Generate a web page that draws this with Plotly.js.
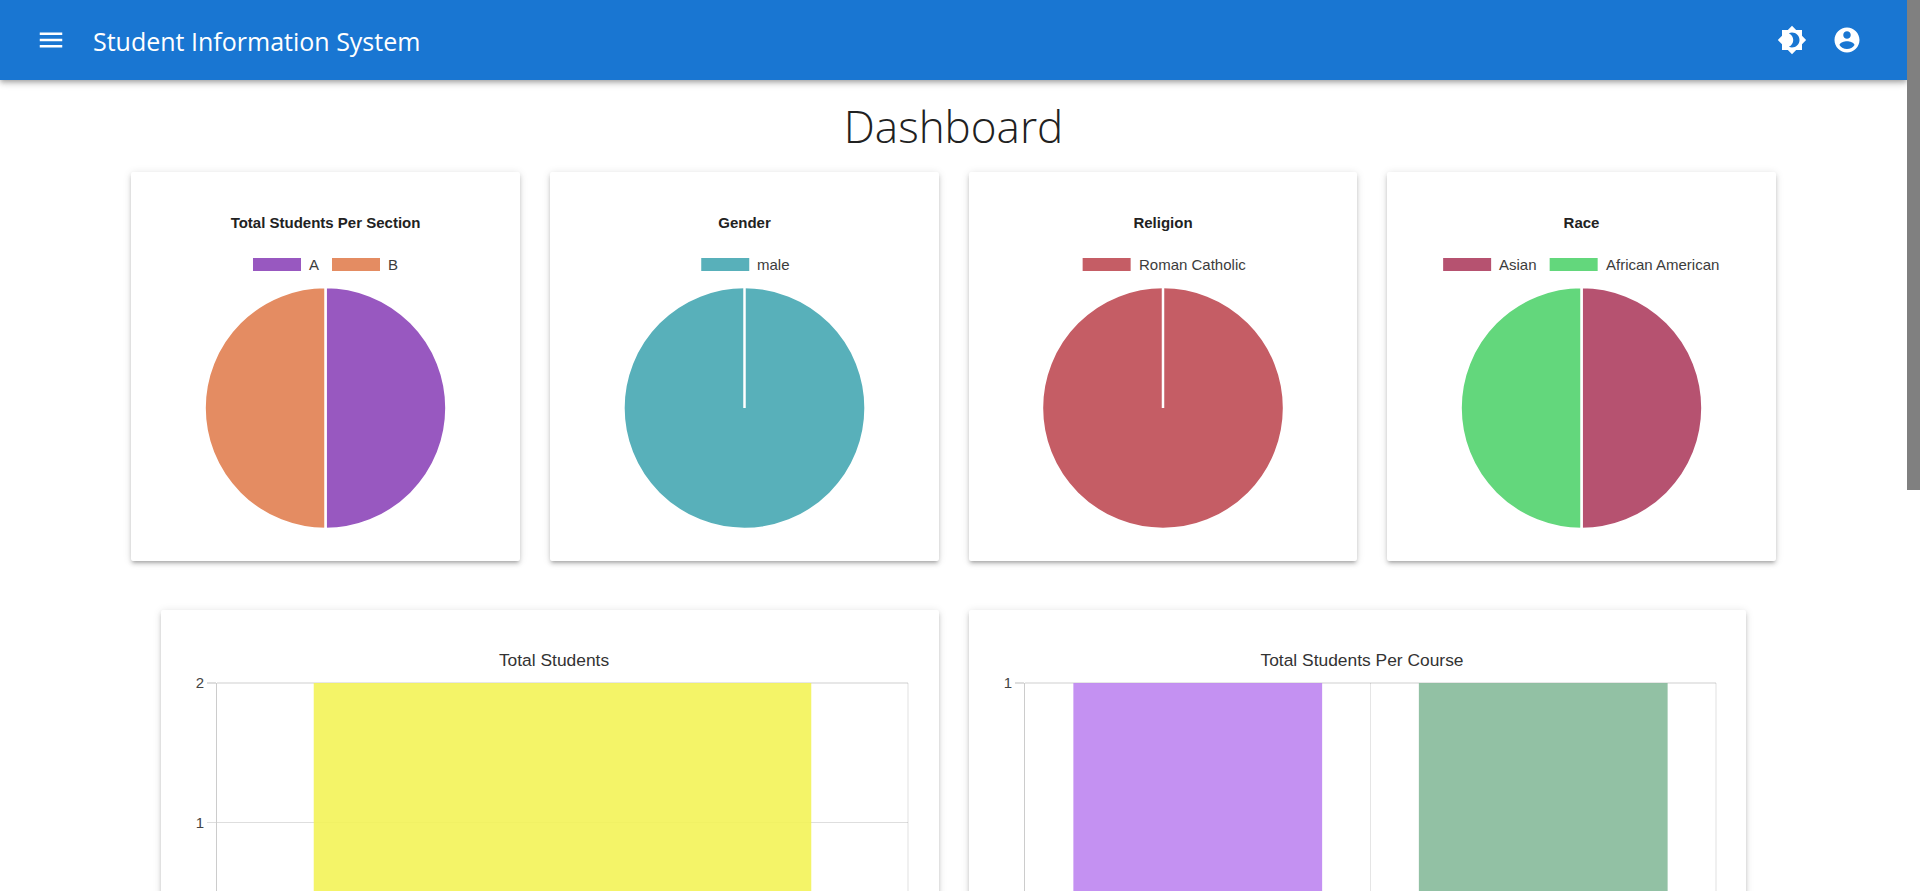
<!DOCTYPE html>
<html><head><meta charset="utf-8">
<script src="https://cdn.plot.ly/plotly-3.0.1.min.js"></script>
<style>
html,body{margin:0;padding:0;width:1920px;height:891px;overflow:hidden;background:#fff;font-family:"Open Sans",sans-serif}
#bar{position:absolute;left:0;top:0;width:1907px;height:80px;background:#1976d2;box-shadow:0 2px 4px -1px rgba(0,0,0,.2),0 4px 5px 0 rgba(0,0,0,.14),0 1px 10px 0 rgba(0,0,0,.12);z-index:5}
#bar .t{position:absolute;left:93px;top:24px;font-size:25px;line-height:34px;color:#fff;white-space:nowrap}
#bar svg{position:absolute;fill:#fff}
#scroll{position:absolute;left:1907px;top:0;width:13px;height:490px;background:#808080;z-index:6}
h1{position:absolute;left:0;width:1907px;top:93px;margin:0;text-align:center;font-size:44px;line-height:66px;font-weight:300;color:#212121}
.card{position:absolute;background:#fff;box-shadow:0 3px 3px -2px rgba(0,0,0,.2),0 3px 4px 0 rgba(0,0,0,.14),0 1px 8px 0 rgba(0,0,0,.12);border-radius:2px}
</style></head><body>
<div id="bar">
<svg style="left:36px;top:25px" width="30" height="30" viewBox="0 0 24 24"><path d="M3 18h18v-2H3v2zm0-5h18v-2H3v2zm0-7v2h18V6H3z"/></svg>
<div class="t">Student Information System</div>
<svg style="left:1777px;top:25px" width="30" height="30" viewBox="0 0 24 24"><path d="M20 8.69V4h-4.69L12 .69 8.69 4H4v4.69L.69 12 4 15.31V20h4.69L12 23.31 15.31 20H20v-4.69L23.31 12 20 8.69zM12 18c-.89 0-1.74-.2-2.5-.55C11.56 16.5 13 14.42 13 12s-1.44-4.5-3.5-5.45C10.26 6.2 11.11 6 12 6c3.31 0 6 2.69 6 6s-2.69 6-6 6z"/></svg>
<svg style="left:1832px;top:25px" width="30" height="30" viewBox="0 0 24 24"><path d="M12 2C6.48 2 2 6.48 2 12s4.48 10 10 10 10-4.48 10-10S17.52 2 12 2zm0 3c1.66 0 3 1.34 3 3s-1.34 3-3 3-3-1.34-3-3 1.34-3 3-3zm0 14.2c-2.5 0-4.71-1.28-6-3.22.03-1.99 4-3.08 6-3.08 1.99 0 5.97 1.09 6 3.08-1.29 1.94-3.5 3.22-6 3.22z"/></svg>
</div>
<div id="scroll"></div>
<h1>Dashboard</h1>
<div class="card" id="p1" style="left:131px;top:172px;width:389px;height:389px"></div>
<div class="card" id="p2" style="left:550px;top:172px;width:389px;height:389px"></div>
<div class="card" id="p3" style="left:969px;top:172px;width:388px;height:389px"></div>
<div class="card" id="p4" style="left:1387px;top:172px;width:389px;height:389px"></div>
<div class="card" id="b1" style="left:161px;top:610px;width:778px;height:420px"></div>
<div class="card" id="b2" style="left:969px;top:610px;width:777px;height:420px"></div>
<script>
// ---- data ----
const sectionLabels = ["A", "B"];
const sectionValues = [1, 1];
const sectionColors = ["#9858c0", "#e48c62"];
const genderLabels = ["male"];
const genderValues = [1];
const genderColors = ["#58b0ba"];
const religionLabels = ["Roman Catholic"];
const religionValues = [1];
const religionColors = ["#c55d65"];
const raceLabels = ["Asian", "African American"];
const raceValues = [1, 1];
const raceColors = ["#b65270", "#63d77c"];
const totalCategories = ["Total Students"];
const totalValues = [2];
const totalTicks = [1, 2];
const totalColors = ["rgba(243,243,88,0.9)"];
const courseCategories = ["Course 1", "Course 2"];
const courseValues = [1, 1];
const courseTicks = [1];
const courseColors = ["rgba(190,133,241,0.9)", "rgba(134,186,154,0.9)"];

// ---- drawing ----
const FONT = '"Liberation Sans", Arial, sans-serif';
const cfg = {staticPlot: true, displayModeBar: false};
const ctx = document.createElement('canvas').getContext('2d');

function pie(id, title, labels, values, colors) {
  const el = document.getElementById(id);
  const W = el.clientWidth, H = el.clientHeight;
  const cx = W / 2, cy = 236, r = 121;
  const shapes = [], annotations = [];
  const fs = 15, sw = 48, sh = 13, gapT = 8, gapI = 13, ly = 92.5;
  ctx.font = fs + 'px "Liberation Sans"';
  const widths = labels.map(l => ctx.measureText(l).width);
  const total = widths.reduce((a, w) => a + sw + gapT + w, 0) + gapI * (labels.length - 1);
  let x = W / 2 - total / 2 + (labels.length === 1 ? 1 : 0);
  labels.forEach((l, i) => {
    shapes.push({type: 'rect', xref: 'paper', yref: 'paper', x0: x / W, x1: (x + sw) / W,
      y0: 1 - (ly + sh / 2) / H, y1: 1 - (ly - sh / 2) / H, fillcolor: colors[i], line: {width: 0}});
    annotations.push({xref: 'paper', yref: 'paper', x: (x + sw + gapT) / W, y: 1 - ly / H,
      xanchor: 'left', yanchor: 'middle', showarrow: false, text: l,
      font: {family: FONT, size: fs, color: '#3c3c3c'}, borderpad: 0, borderwidth: 0});
    x += sw + gapT + widths[i] + gapI;
  });
  if (values.length === 1) {
    shapes.push({type: 'line', xref: 'paper', yref: 'paper', x0: cx / W, x1: cx / W,
      y0: 1 - cy / H, y1: 1 - (cy - r) / H, line: {color: '#fff', width: 2.5}});
  }
  Plotly.newPlot(el, [{type: 'pie', labels, values, sort: false, direction: 'clockwise', rotation: 0,
    textinfo: 'none', hoverinfo: 'label+value', showlegend: false,
    marker: {colors, line: {color: '#fff', width: 2.5}},
    domain: {x: [(cx - r) / W, (cx + r) / W], y: [1 - (cy + r) / H, 1 - (cy - r) / H]}}],
  {width: W, height: H, margin: {l: 0, r: 0, t: 0, b: 0}, paper_bgcolor: 'rgba(0,0,0,0)', showlegend: false,
    title: {text: '<b>' + title + '</b>', x: 0.5, xanchor: 'center', y: 1 - 51 / H, yanchor: 'middle',
      font: {family: FONT, size: 15, color: '#222'}},
    shapes, annotations}, cfg);
}

function bars(id, title, cats, vals, colors, yMax, ticks, mr) {
  const el = document.getElementById(id);
  const W = el.clientWidth, H = el.clientHeight;
  const ml = 56, mt = 73;
  const grid = 'rgba(0,0,0,0.13)';
  Plotly.newPlot(el, [{type: 'bar', x: cats, y: vals, width: 0.72, marker: {color: colors, line: {width: 0}}, hoverinfo: 'x+y'}],
  {width: W, height: H, margin: {l: ml, r: mr, t: mt, b: H - mt - 279}, paper_bgcolor: 'rgba(0,0,0,0)', plot_bgcolor: 'rgba(0,0,0,0)', showlegend: false,
    title: {text: title, x: (ml + (W - ml - mr) / 2 - 8.5) / W, xanchor: 'center', y: 1 - 50 / H, yanchor: 'middle',
      font: {family: FONT, size: 17.4, color: '#333'}},
    shapes: [
      {type: 'line', layer: 'below', xref: 'paper', yref: 'paper', x0: 0, x1: 1, y0: 1, y1: 1, line: {color: grid, width: 1.4}},
      {type: 'line', layer: 'below', xref: 'paper', yref: 'paper', x0: 1, x1: 1, y0: 0, y1: 1, line: {color: 'rgba(0,0,0,0.1)', width: 1.2}}
    ],
    xaxis: {type: 'category', tickson: 'boundaries', range: [-0.5, cats.length - 0.5], showgrid: true,
      gridcolor: 'rgba(0,0,0,0.1)', gridwidth: 1.2, ticks: '', showticklabels: false, zeroline: false,
      showline: false},
    yaxis: {range: [0, yMax], tickmode: 'array', tickvals: ticks, ticktext: ticks.map(String), ticks: 'outside', ticklen: 9, tickwidth: 1.2, tickcolor: grid,
      gridcolor: grid, gridwidth: 1.4, zeroline: false, showline: true, linecolor: 'rgba(0,0,0,0.2)', linewidth: 1,
      tickfont: {family: FONT, size: 15, color: '#444'}}}, cfg);
}

pie('p1', 'Total Students Per Section', sectionLabels, sectionValues, sectionColors);
pie('p2', 'Gender', genderLabels, genderValues, genderColors);
pie('p3', 'Religion', religionLabels, religionValues, religionColors);
pie('p4', 'Race', raceLabels, raceValues, raceColors);
bars('b1', 'Total Students', totalCategories, totalValues, totalColors, 2, totalTicks, 31);
bars('b2', 'Total Students Per Course', courseCategories, courseValues, courseColors, 1, courseTicks, 30);
</script>
</body></html>
